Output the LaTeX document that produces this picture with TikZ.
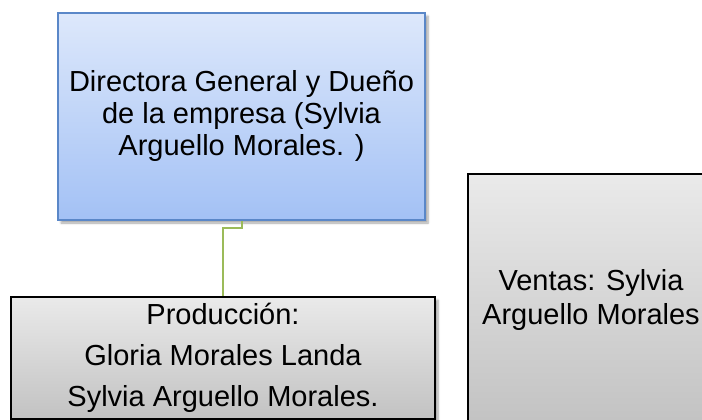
\documentclass[tikz,border=0pt]{standalone}
\usepackage{fontspec}
\setmainfont{Liberation Sans}
\usetikzlibrary{shadows.blur}
\definecolor{bluetop}{HTML}{DDE8FB}
\definecolor{bluebot}{HTML}{A3C1F5}
\definecolor{blueedge}{HTML}{5A87C8}
\definecolor{graytop}{HTML}{EAEAEA}
\definecolor{graybot}{HTML}{C2C2C2}
\definecolor{conn}{HTML}{9BBB59}
\tikzset{
  bluebox/.style={draw=blueedge, line width=1.5pt, top color=bluetop, bottom color=bluebot,
    blur shadow={shadow xshift=3pt, shadow yshift=-3pt, shadow blur steps=6, shadow opacity=35},
    inner sep=0pt, align=center, font=\fontsize{29}{32}\selectfont},
  graybox/.style={draw=black, line width=2pt, top color=graytop, bottom color=graybot,
    blur shadow={shadow xshift=3pt, shadow yshift=-3pt, shadow blur steps=6, shadow opacity=35},
    inner sep=0pt, align=center},
  link/.style={draw=conn, line width=1.5pt}
}
\begin{document}
\begin{tikzpicture}[x=1pt, y=-1pt]
\useasboundingbox (0,0) rectangle (702,420);
\node[bluebox, minimum width=367pt, minimum height=207pt] (dir) at (241.5,116.5)
  {Directora General y Dueño\\de la empresa (Sylvia\\Arguello Morales. )};
\node[graybox, minimum width=424pt, minimum height=122pt, font=\fontsize{29}{41}\selectfont] (prod) at (223,358)
  {Producción:\\Gloria Morales Landa\\Sylvia Arguello Morales.};
\node[graybox, minimum width=246pt, minimum height=252pt, font=\fontsize{29}{34}\selectfont] (ventas) at (591,300)
  {Ventas: Sylvia\\Arguello Morales};
\coordinate (k1) at (242,228);
\coordinate (k2) at (223,228);
\draw[link] (dir.south -| k1) -- (k1) -- (k2) -- (k2 |- prod.north);
\end{tikzpicture}
\end{document}
